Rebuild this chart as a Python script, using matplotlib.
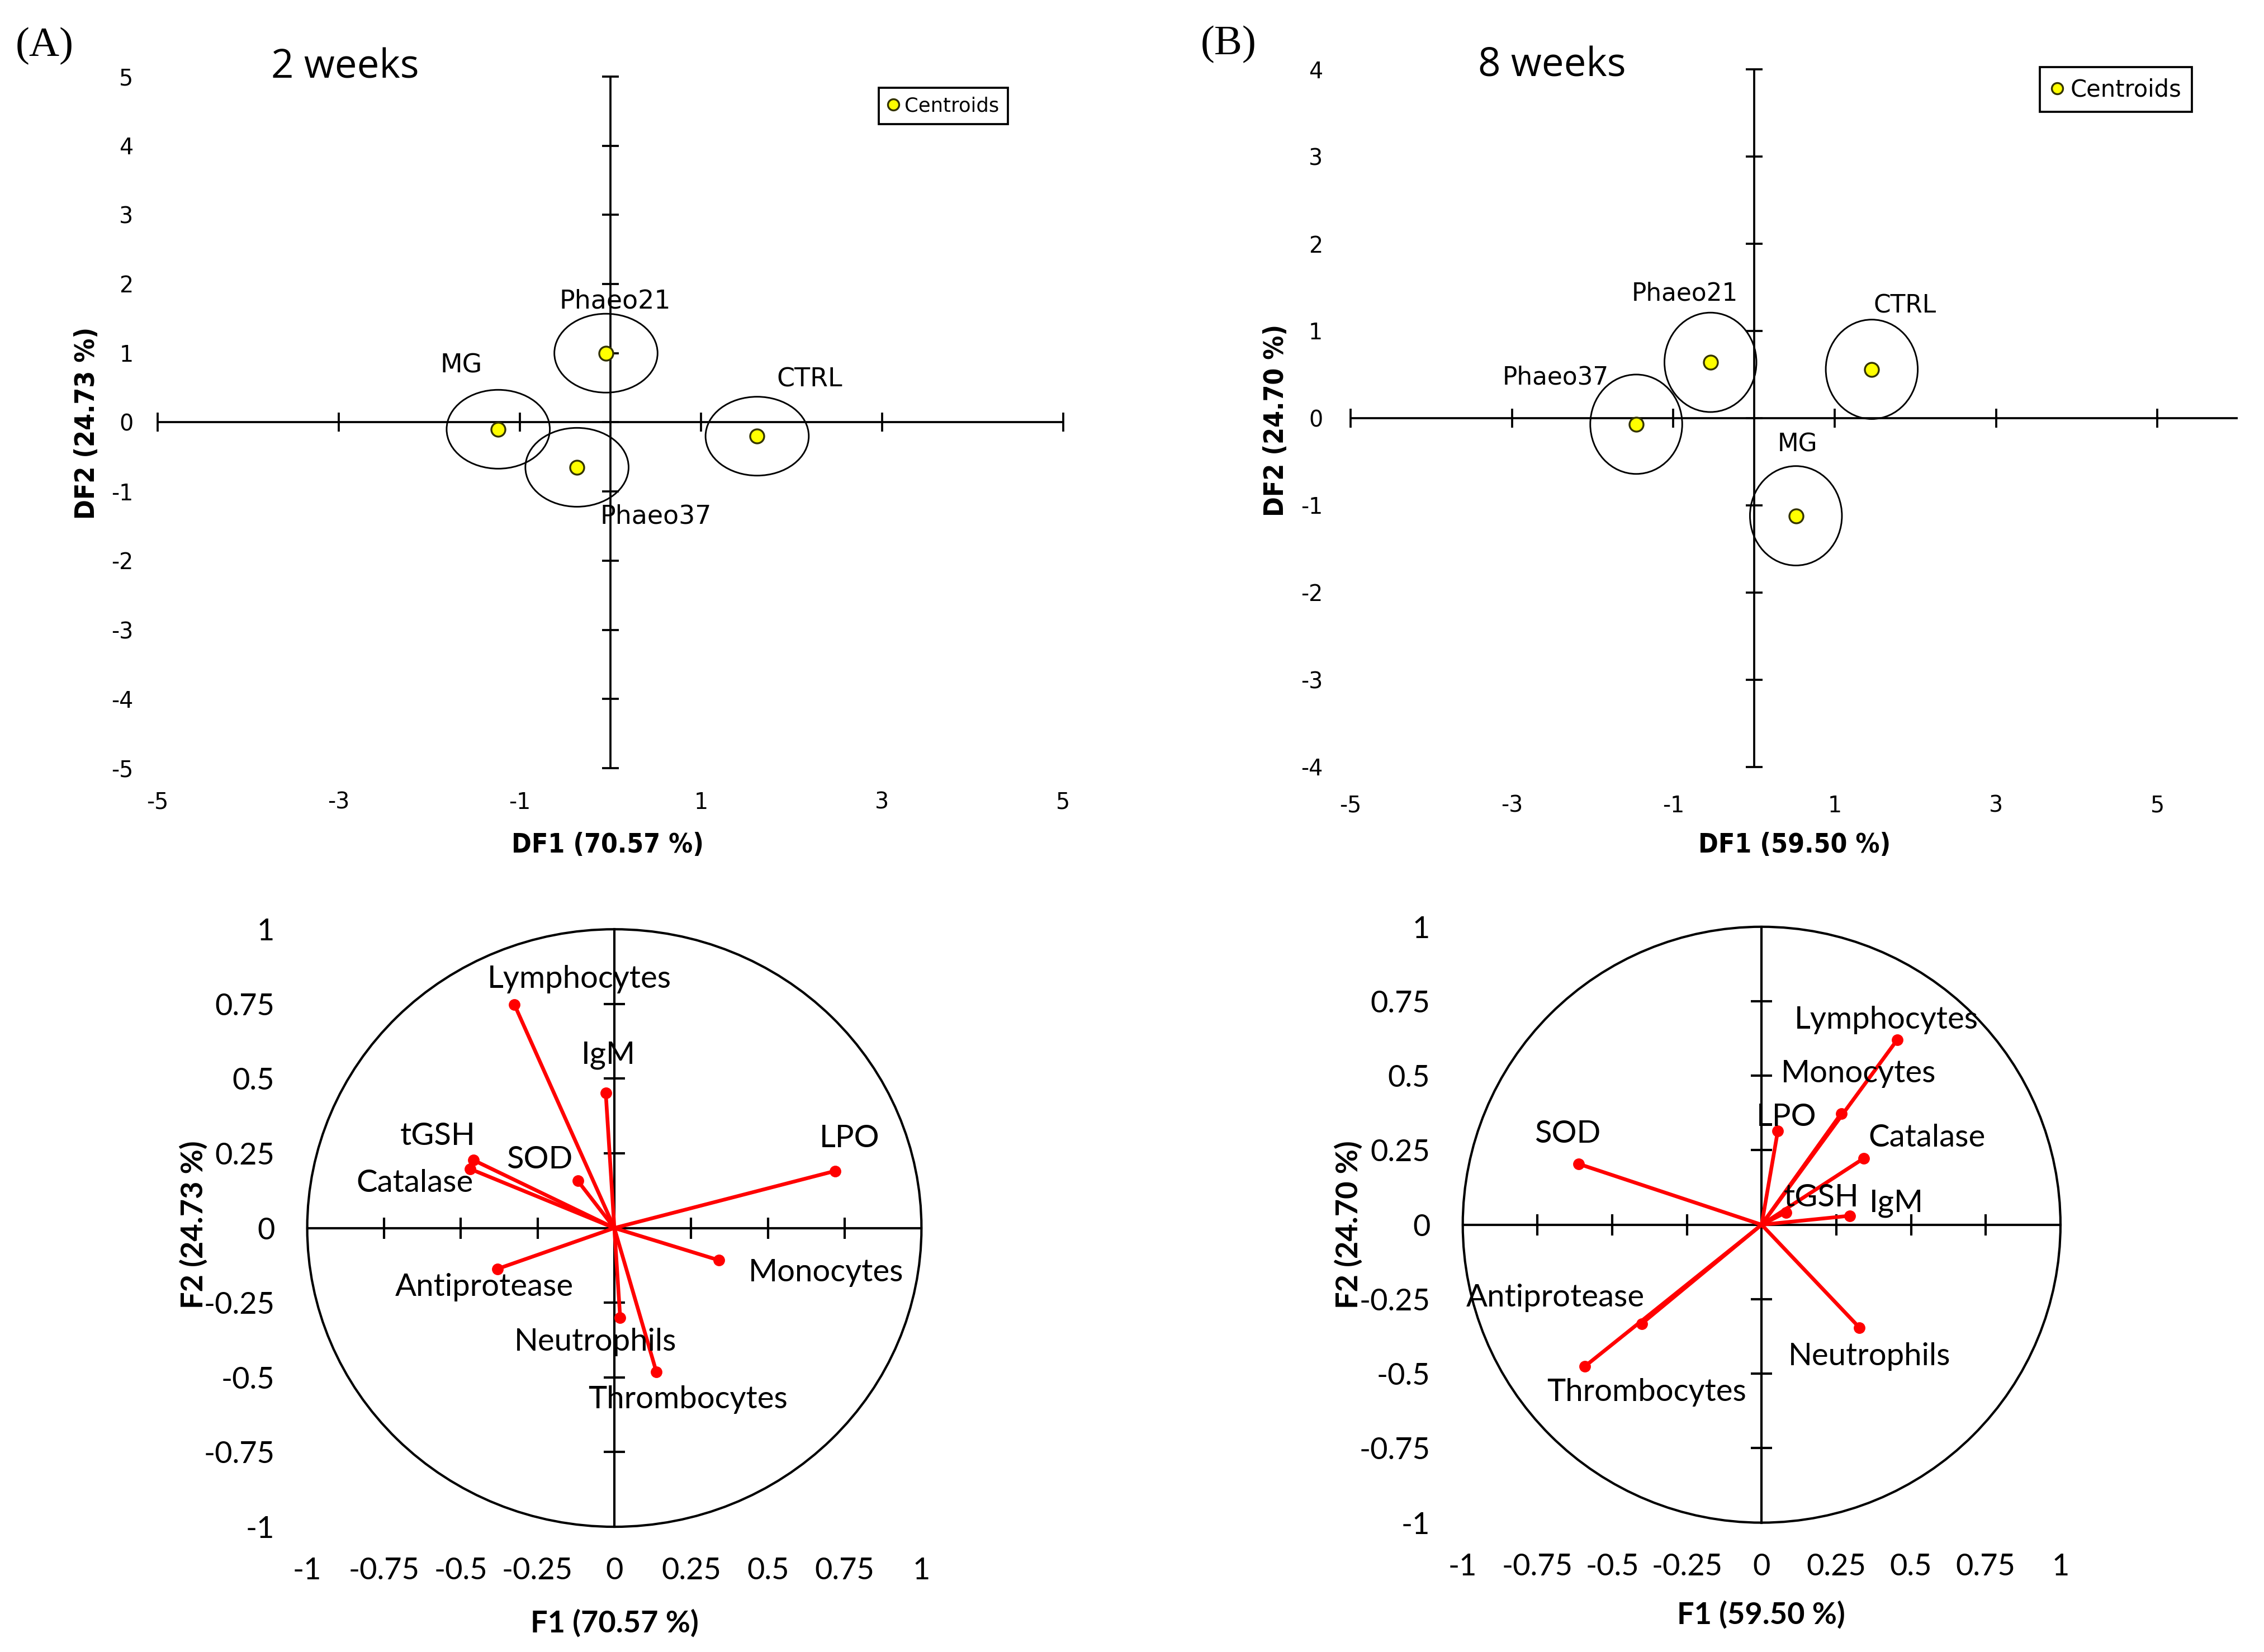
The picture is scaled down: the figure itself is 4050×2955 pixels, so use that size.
import numpy as np
import matplotlib
matplotlib.use("Agg")
import matplotlib.pyplot as plt
from matplotlib.patches import Circle

plt.rcParams['axes.unicode_minus'] = False

# ---------------- data ----------------
groups_2w = ['Phaeo21', 'MG', 'Phaeo37', 'CTRL']
df1_2w = [-0.05, -1.24, -0.37, 1.62]
df2_2w = [1.00, -0.10, -0.65, -0.20]

groups_8w = ['Phaeo21', 'CTRL', 'Phaeo37', 'MG']
df1_8w = [-0.54, 1.46, -1.46, 0.52]
df2_8w = [0.64, 0.56, -0.07, -1.12]

conf_radius = 0.57

variables = ['Lymphocytes', 'IgM', 'LPO', 'tGSH', 'Catalase', 'SOD',
             'Antiprotease', 'Monocytes', 'Neutrophils', 'Thrombocytes']
f1_2w = [-0.325, -0.028, 0.719, -0.458, -0.470, -0.119, -0.381, 0.341, 0.019, 0.137]
f2_2w = [0.747, 0.453, 0.191, 0.227, 0.198, 0.158, -0.137, -0.108, -0.300, -0.482]
f1_8w = [0.454, 0.295, 0.054, 0.081, 0.342, -0.612, -0.401, 0.266, 0.327, -0.591]
f2_8w = [0.621, 0.030, 0.314, 0.041, 0.223, 0.204, -0.332, 0.373, -0.345, -0.475]

xticks_top = [-5, -3, -1, 1, 3, 5]
yticks_2w = [5, 4, 3, 2, 1, 0, -1, -2, -3, -4, -5]
yticks_8w = [4, 3, 2, 1, 0, -1, -2, -3, -4]
ticks_circle = [-1, -0.75, -0.5, -0.25, 0, 0.25, 0.5, 0.75, 1]
tick_labels_circle = ['-1', '-0.75', '-0.5', '-0.25', '0', '0.25', '0.5', '0.75', '1']
minor_circle = [-0.75, -0.5, -0.25, 0.25, 0.5, 0.75]

# ---------------- label placement (layout) ----------------
grp_lab_2w = {'Phaeo21': (0.05, 1.75), 'MG': (-1.65, 0.82), 'Phaeo37': (0.50, -1.36), 'CTRL': (2.20, 0.62)}
grp_lab_8w = {'Phaeo21': (-0.86, 1.43), 'CTRL': (1.87, 1.29), 'Phaeo37': (-2.46, 0.47), 'MG': (0.54, -0.30)}
var_lab_2w = {'Lymphocytes': (-0.113, 0.833), 'IgM': (-0.02, 0.578), 'LPO': (0.766, 0.30),
              'tGSH': (-0.574, 0.307), 'Catalase': (-0.65, 0.149), 'SOD': (-0.243, 0.229),
              'Antiprotease': (-0.423, -0.199), 'Monocytes': (0.69, -0.15),
              'Neutrophils': (-0.061, -0.382), 'Thrombocytes': (0.24, -0.574)}
var_lab_8w = {'Lymphocytes': (0.417, 0.688), 'IgM': (0.451, 0.071), 'LPO': (0.083, 0.361),
              'tGSH': (0.199, 0.09), 'Catalase': (0.553, 0.292), 'SOD': (-0.65, 0.305),
              'Antiprotease': (-0.69, -0.245), 'Monocytes': (0.325, 0.507),
              'Neutrophils': (0.36, -0.443), 'Thrombocytes': (-0.384, -0.562)}

TOPF = 'DejaVu Sans'
BOTF = 'Lato'

fig = plt.figure(figsize=(13.5, 9.85), dpi=300)


def strip(ax):
    for s in ax.spines.values():
        s.set_visible(False)
    ax.tick_params(length=0)
    ax.set_facecolor('none')


def top_panel(rect, xs, ys, names, xlim, ylim, yticks, lab_pos, lab_fs, legend_anchor, legend_fs, ypad, xpad):
    ax = fig.add_axes(rect)
    strip(ax)
    ax.set_xlim(*xlim)
    ax.set_ylim(*ylim)
    ax.axhline(0, color='black', lw=0.9, zorder=1)
    ax.axvline(0, color='black', lw=0.9, zorder=1)
    ax.plot(xticks_top, np.zeros(len(xticks_top)), ls='none', marker='|', ms=8, mew=0.9, color='black', clip_on=False)
    ax.plot(np.zeros(len(yticks)), yticks, ls='none', marker='_', ms=7, mew=0.9, color='black', clip_on=False)
    ax.set_xticks(xticks_top)
    ax.set_xticklabels([str(t) for t in xticks_top], fontfamily=TOPF, fontsize=9.5)
    ax.set_yticks(yticks)
    ax.set_yticklabels([str(t) for t in yticks], fontfamily=TOPF, fontsize=9.5)
    ax.tick_params(axis='y', pad=ypad)
    ax.tick_params(axis='x', pad=xpad)
    for x, y, n in zip(xs, ys, names):
        ax.add_patch(Circle((x, y), conf_radius, fill=False, ec='black', lw=0.7, zorder=2))
    ax.plot(xs, ys, ls='none', marker='o', ms=6, mfc='#FFFF00', mec='#333300', mew=0.8,
            label='Centroids', zorder=3)
    for n in names:
        lx, ly = lab_pos[n]
        ax.text(lx, ly, n, ha='center', va='center', fontfamily=TOPF, fontsize=lab_fs)
    leg = ax.legend(loc='upper right', bbox_to_anchor=legend_anchor, frameon=True, fancybox=False,
                    edgecolor='black', framealpha=1, handlelength=0.6, handletextpad=0.25,
                    borderpad=0.45, borderaxespad=0, prop={'family': TOPF, 'size': legend_fs},
                    markerscale=0.8)
    leg.get_frame().set_linewidth(0.9)
    return ax


def circle_panel(rect, xs, ys, lab_pos):
    ax = fig.add_axes(rect)
    strip(ax)
    ax.set_xlim(-1, 1)
    ax.set_ylim(-1, 1)
    ax.add_patch(Circle((0, 0), 1, fill=False, ec='black', lw=1.0, clip_on=False))
    ax.plot([-1, 1], [0, 0], color='black', lw=1.0, clip_on=False)
    ax.plot([0, 0], [-1, 1], color='black', lw=1.0, clip_on=False)
    ax.plot(minor_circle, np.zeros(len(minor_circle)), ls='none', marker='|', ms=9, mew=1.0, color='black')
    ax.plot(np.zeros(len(minor_circle)), minor_circle, ls='none', marker='_', ms=9, mew=1.0, color='black')
    for x, y, n in zip(xs, ys, variables):
        ax.plot([0, x], [0, y], color='#FF0000', lw=1.6, solid_capstyle='round', zorder=3)
        ax.plot([x], [y], ls='none', marker='o', ms=4, color='#FF0000', zorder=4)
        lx, ly = lab_pos[n]
        ax.text(lx, ly, n, ha='center', va='center', fontfamily=BOTF, fontsize=13.5, zorder=5)
    ax.set_xticks(ticks_circle)
    ax.set_xticklabels(tick_labels_circle, fontfamily=BOTF, fontsize=13)
    ax.set_yticks(ticks_circle)
    ax.set_yticklabels(tick_labels_circle, fontfamily=BOTF, fontsize=13)
    ax.tick_params(axis='y', pad=14)
    ax.tick_params(axis='x', pad=13)
    return ax


top_panel([0.0697, 0.535, 0.3999, 0.4187], df1_2w, df2_2w, groups_2w, (-5, 5), (-5, 5), yticks_2w,
          grp_lab_2w, 11, (0.939, 0.984), 8.5, 10.5, 10)
top_panel([0.5966, 0.5358, 0.3919, 0.4222], df1_8w, df2_8w, groups_8w, (-5, 6), (-4, 4), yticks_8w,
          grp_lab_8w, 10.5, (0.948, 1.003), 10, 12, 12)

circle_panel([0.1357, 0.0758, 0.2713, 0.3617], f1_2w, f2_2w, var_lab_2w)
circle_panel([0.6461, 0.0783, 0.2640, 0.3607], f1_8w, f2_8w, var_lab_8w)

# axis titles
axkw = dict(ha='center', va='center', fontfamily=TOPF, fontweight='bold', fontstretch='condensed', fontsize=11.5)
fig.text(0.2685, 0.4886, 'DF1 (70.57 %)', **axkw)
fig.text(0.0383, 0.7439, 'DF2 (24.73 %)', rotation=90, **axkw)
fig.text(0.7927, 0.4886, 'DF1 (59.50 %)', **axkw)
fig.text(0.5635, 0.7456, 'DF2 (24.70 %)', rotation=90, **axkw)
bkw = dict(ha='center', va='center', fontfamily=BOTF, fontweight='bold', fontsize=13)
fig.text(0.2714, 0.0175, 'F1 (70.57 %)', **bkw)
fig.text(0.0855, 0.2587, 'F2 (24.73 %)', rotation=90, **bkw)
fig.text(0.7778, 0.0227, 'F1 (59.50 %)', **bkw)
fig.text(0.5957, 0.2587, 'F2 (24.70 %)', rotation=90, **bkw)

# titles and panel tags
fig.text(0.1524, 1 - 54 / 1144, '2 weeks', ha='center', va='baseline', fontfamily='Open Sans', fontsize=17)
fig.text(0.6856, 1 - 53 / 1144, '8 weeks', ha='center', va='baseline', fontfamily='Open Sans', fontsize=17)
fig.text(0.0198, 0.972, '(A)', ha='center', va='center', fontfamily='Liberation Serif', fontsize=18)
fig.text(0.5427, 0.973, '(B)', ha='center', va='center', fontfamily='Liberation Serif', fontsize=18)

fig.savefig('out.png', dpi=300)
